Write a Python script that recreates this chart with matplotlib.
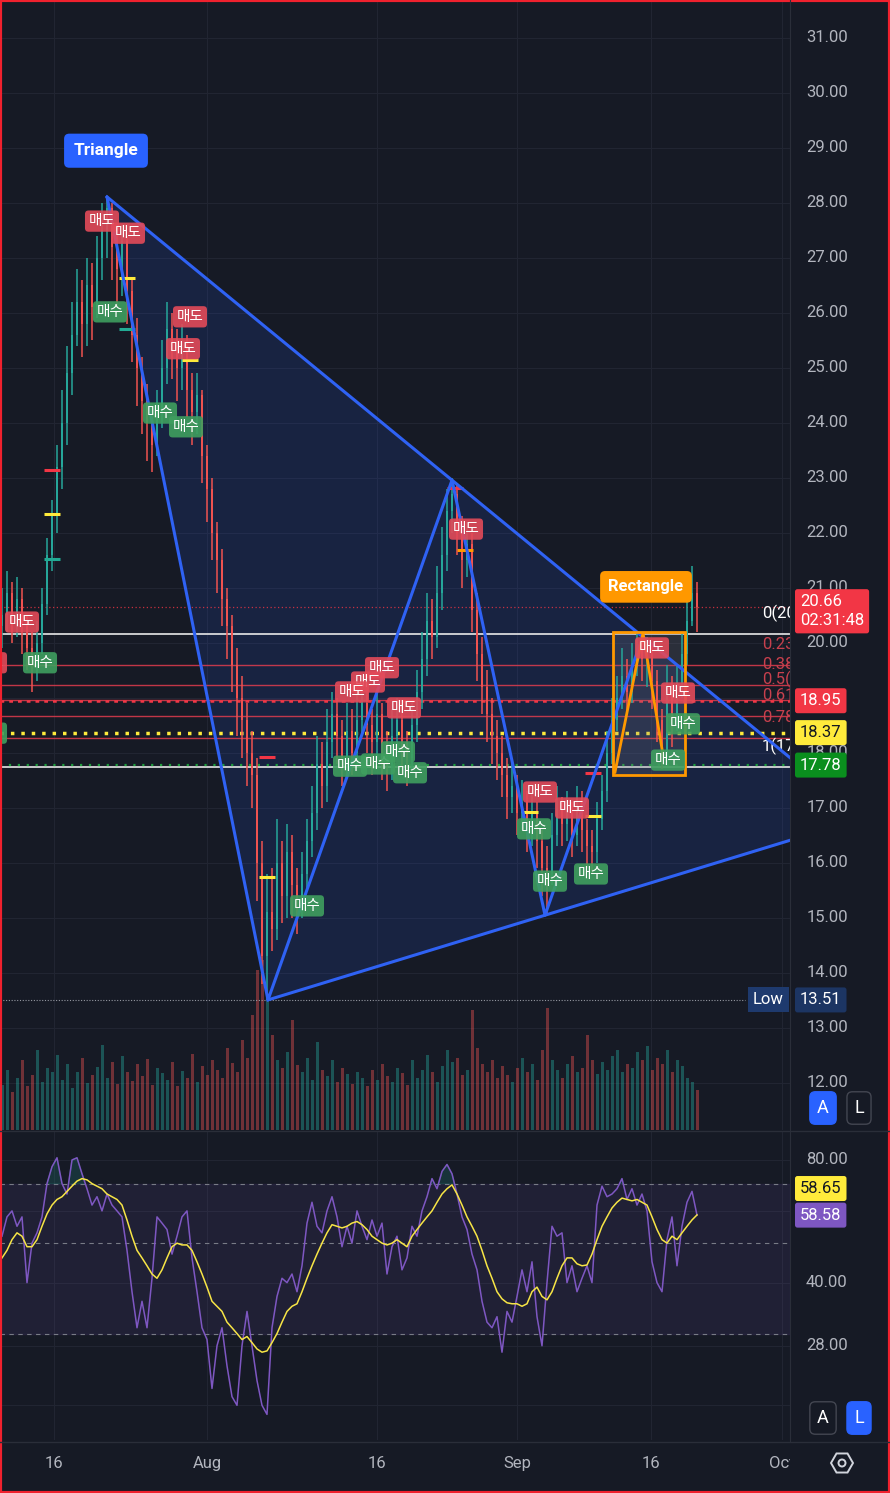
import matplotlib
matplotlib.use('Agg')
import matplotlib.pyplot as plt
import matplotlib.transforms as mtransforms
from matplotlib.patches import Rectangle, Polygon, RegularPolygon, Circle
from matplotlib.lines import Line2D
from matplotlib.ticker import NullLocator
import numpy as np

plt.rcParams['font.family'] = ['Roboto', 'Noto Sans CJK KR', 'DejaVu Sans']

W, H = 890, 1493
BG = '#161a25'
GRID = '#212532'
TXT = '#b2b5be'
UP = '#26a69a'
DN = '#ef5350'
BLUE = '#2f62f4'

# ---- price data (one bar per list entry) ----
first_open = 20.3
closes = [20.5, 20.9, 20.4, 20.8, 20.3, 19.9, 19.6, 20.0, 20.7, 21.6,
          22.3, 23.2, 24.0, 24.9, 25.6, 26.2, 25.8, 26.5, 26.1, 27.0,
          27.5, 27.9, 27.2, 26.8, 27.3, 26.4, 25.6, 25.0, 24.4, 24.0,
          23.6, 24.2, 25.0, 25.7, 25.3, 25.0, 25.4, 24.6, 24.2, 24.5,
          23.4, 22.8, 22.0, 21.5, 20.8, 20.3, 19.6, 19.0, 18.6, 18.0,
          17.6, 16.0, 14.3, 15.1, 14.8, 16.0, 15.4, 16.2, 15.6, 15.2,
          15.8, 16.4, 16.9, 17.8, 17.4, 18.2, 18.7, 18.3, 17.9, 18.4,
          18.0, 18.6, 18.9, 18.5, 18.2, 18.7, 18.0, 17.8, 18.3, 18.6,
          18.1, 17.9, 18.5, 19.1, 19.7, 20.4, 20.1, 20.9, 21.6, 22.4,
          22.7, 22.0, 21.5, 21.8, 20.6, 19.8, 19.2, 18.7, 18.3, 18.0,
          17.6, 17.2, 17.4, 16.9, 17.1, 16.6, 16.9, 16.4, 15.9, 15.8,
          16.5, 17.0, 16.7, 16.9, 16.5, 17.1, 16.6, 16.3, 16.2, 16.8,
          17.3, 18.0, 18.6, 19.0, 19.4, 19.1, 19.6, 19.9, 19.7, 19.8,
          19.3, 18.6, 18.0, 19.1, 18.6, 19.2, 19.8, 20.4, 20.9, 20.66]
highs = [21.0, 21.3, 21.1, 21.2, 21.0, 20.5, 20.2, 20.4, 21.0, 21.9,
         22.6, 23.6, 24.6, 25.4, 26.2, 26.8, 26.6, 27.0, 26.9, 27.4,
         28.0, 28.1, 28.0, 27.6, 27.6, 27.4, 26.6, 25.9, 25.2, 24.7,
         24.3, 24.6, 25.5, 26.2, 26.0, 25.7, 25.8, 25.6, 24.9, 24.9,
         24.6, 23.6, 23.0, 22.2, 21.7, 21.0, 20.5, 19.9, 19.4, 18.9,
         18.4, 17.9, 16.4, 15.8, 15.9, 16.8, 16.4, 16.7, 16.5, 15.9,
         16.2, 16.8, 17.4, 18.3, 18.2, 18.8, 19.1, 19.0, 18.6, 18.9,
         18.8, 19.2, 19.4, 19.2, 18.8, 19.1, 18.9, 18.4, 18.8, 19.0,
         18.9, 18.4, 18.9, 19.5, 20.2, 20.9, 20.8, 21.4, 22.1, 22.8,
         23.0, 22.9, 22.3, 22.2, 22.0, 20.9, 20.1, 19.5, 19.0, 18.6,
         18.3, 17.9, 17.8, 17.6, 17.5, 17.3, 17.3, 17.1, 16.6, 16.3,
         16.9, 17.4, 17.2, 17.3, 17.1, 17.4, 17.3, 16.8, 16.6, 17.1,
         17.6, 18.4, 19.0, 19.4, 19.9, 19.7, 20.0, 20.2, 20.1, 20.1,
         20.0, 19.5, 18.8, 19.6, 19.4, 19.6, 20.2, 21.0, 21.4, 21.1]
lows = [19.9, 20.2, 20.0, 20.1, 19.8, 19.5, 19.1, 19.3, 19.8, 20.5,
        21.3, 22.0, 22.8, 23.6, 24.5, 25.4, 25.2, 25.4, 25.5, 25.9,
        26.6, 27.0, 26.6, 26.1, 26.3, 25.8, 25.1, 24.3, 23.8, 23.3,
        23.1, 23.4, 23.9, 24.7, 24.8, 24.4, 24.6, 24.1, 23.6, 23.8,
        22.9, 22.2, 21.5, 20.9, 20.3, 19.7, 19.1, 18.3, 17.9, 17.4,
        17.0, 15.3, 13.8, 13.51, 14.4, 14.6, 14.9, 15.0, 15.0, 14.7,
        15.0, 15.5, 16.1, 16.6, 17.0, 17.1, 17.9, 17.8, 17.4, 17.6,
        17.6, 17.8, 18.3, 18.0, 17.6, 17.9, 17.5, 17.3, 17.5, 18.0,
        17.6, 17.4, 17.7, 18.2, 18.8, 19.4, 19.7, 19.9, 20.6, 21.3,
        22.0, 21.6, 21.0, 21.2, 20.2, 19.3, 18.7, 18.2, 17.8, 17.5,
        17.2, 16.8, 16.9, 16.5, 16.6, 16.2, 16.3, 15.9, 15.4, 15.05,
        15.6, 16.3, 16.3, 16.4, 16.1, 16.3, 16.2, 15.9, 15.8, 16.0,
        16.6, 17.1, 17.8, 18.4, 18.8, 18.7, 18.9, 19.4, 19.3, 19.2,
        18.8, 18.2, 17.7, 17.8, 18.1, 18.4, 19.0, 19.6, 20.3, 20.2]
volume = [45, 60, 38, 52, 70, 44, 55, 80, 48, 62, 58, 75, 50, 66, 42, 58, 72, 47, 55, 63,
          85, 52, 68, 46, 74, 58, 49, 66, 54, 71, 45, 62, 57, 50, 68, 44, 59, 52, 76, 48,
          64, 55, 70, 60, 52, 82, 67, 58, 90, 72, 115, 160, 170, 130, 95, 70, 62, 78, 110, 65,
          58, 72, 50, 88, 60, 54, 70, 48, 62, 56, 46, 58, 52, 44, 60, 50, 66, 54, 48, 62,
          57, 45, 70, 52, 60, 75, 58, 48, 64, 80, 68, 72, 55, 60, 120, 82, 66, 58, 70, 52,
          64, 55, 48, 62, 72, 58, 66, 50, 80, 122, 70, 60, 52, 66, 74, 58, 62, 95, 70, 56,
          68, 60, 74, 80, 58, 66, 62, 78, 70, 84, 60, 72, 66, 80, 58, 70, 64, 52, 48, 40]

# ---- RSI pane ----
rsi = [52, 58, 60, 55, 58, 40, 50, 53, 58, 70,
       77, 81, 70, 66, 80, 81, 74, 68, 62, 65,
       60, 66, 62, 60, 58, 48, 38, 31, 36, 31,
       41, 58, 56, 54, 47, 52, 58, 60, 46, 38,
       31, 29, 22, 28, 31, 25, 21, 20, 28, 34,
       28, 23, 20, 19, 31, 37, 41, 40, 42, 38,
       44, 56, 63, 55, 53, 60, 65, 58, 49, 55,
       50, 60, 55, 51, 57, 52, 56, 42, 49, 52,
       43, 46, 55, 52, 60, 65, 72, 68, 75, 78,
       74, 66, 58, 54, 47, 43, 36, 32, 31, 33,
       27, 34, 32, 37, 43, 38, 45, 33, 28, 40,
       55, 52, 53, 40, 44, 38, 41, 44, 40, 62,
       69, 65, 66, 68, 72, 64, 68, 62, 66, 60,
       45, 40, 38, 51, 58, 44, 55, 63, 67, 58.58]
rsi_ma = [46, 48, 51, 53, 52, 49, 49, 51, 55, 59,
          62, 64, 65, 67, 69, 71, 72, 71.5, 70, 69,
          68, 66, 65, 64, 62, 57, 52, 48, 46, 44,
          42, 41, 43, 46, 49, 50, 49.5, 49.5, 48, 45,
          42, 39, 36, 35, 34, 32, 31, 30, 29, 29.5,
          28.5, 27.5, 27, 27.2, 28.5, 30, 32, 34, 35, 35.5,
          38, 41, 44, 47, 50, 53, 55.5, 55, 54.5, 55,
          56, 56.5, 55.5, 54, 52, 51, 50, 49.5, 50, 51,
          50, 49, 52, 54, 56, 58, 60, 63, 66, 68,
          69.5, 66, 62, 58, 55, 52, 48, 44, 41, 38,
          36.5, 35.7, 35.5, 35.5, 35, 35.5, 38, 39, 37, 36.3,
          38, 41, 44, 46, 46, 44.5, 44, 44.2, 47, 51,
          55, 58, 61, 63, 64.5, 64, 63.5, 64, 63, 62,
          58, 54, 51, 50, 52, 51, 53, 55, 57, 58.65]

# ---- axes text ----
date_ticks = [10.4, 41, 75, 103, 129.8, 156]
date_labels = ['16', 'Aug', '16', 'Sep', '16', 'Oct']
price_ticks = list(range(12, 32))
price_hidden = [19]          # covered by the 18.95 alert tag in the reference
rsi_grid = [80, 60, 40, 28, 20]
rsi_labels = [80, 40, 28]

# ---- drawings ----
tri_x = [21, 53.2, 90, 108.6, 128.2]
tri_y = [28.11, 13.51, 22.96, 15.05, 20.13]
rect_box = (122.2, 17.6, 136.6, 20.2)
rect_x = [122.6, 128.2, 132.2]
rect_y = [17.65, 20.18, 17.96]
fib_top, fib_bottom = 20.16, 17.75
fib_levels = [0, 0.236, 0.382, 0.5, 0.618, 0.786, 1]
last_price, alert_red, alert_yellow, alert_green, low_price = 20.66, 18.95, 18.37, 17.78, 13.51

sell_x = [20, 25.2, 37.6, 36.2, 4, -2.4, 76, 73.2, 70, 80.4, 92.8, 107.6, 114, 130, 135.2]
sell_y = [27.67, 27.45, 25.93, 25.35, 20.38, 19.64, 19.55, 19.29, 19.11, 18.82, 22.07, 17.29, 17.0, 19.91, 19.09]
buy_x = [21.6, 31.6, 36.8, 7.6, -2.4, 61, 69.6, 75.2, 79.2, 81.6, 106.4, 109.6, 117.8, 136.2, 133.2]
buy_y = [26.02, 24.18, 23.93, 19.64, 18.36, 15.22, 17.76, 17.8, 18.02, 17.64, 16.62, 15.67, 15.8, 18.53, 17.87]

marks_x = [10, 10, 10, 25, 25, 37.6, 53, 53, 92.6, 90.6, 118.2, 118.2, 105.6]
marks_y = [22.35, 21.53, 23.15, 26.64, 25.71, 25.15, 15.75, 17.93, 21.69, 22.82, 16.85, 17.64, 16.93]
marks_c = ['#ffeb3b', '#22ab94', '#f23645', '#ffeb3b', '#22ab94', '#ffeb3b', '#ffeb3b',
           '#f23645', '#ff9800', '#f23645', '#ffeb3b', '#f23645', '#ffeb3b']


def rect_px(x0, y0, x1, y1):
    return [x0 / W, 1 - y1 / H, (x1 - x0) / W, (y1 - y0) / H]


def clean(a):
    a.set_xticks([])
    a.set_yticks([])
    a.yaxis.set_minor_locator(NullLocator())
    a.xaxis.set_minor_locator(NullLocator())
    for s in a.spines.values():
        s.set_visible(False)


fig = plt.figure(figsize=(W / 100, H / 100), dpi=100, facecolor=BG)
XL = (-0.4, 157.6)

ax_v = fig.add_axes(rect_px(0, 0, 790, 1130), facecolor=BG)
ax = fig.add_axes(rect_px(0, 0, 790, 1130), facecolor='none')
ax_r = fig.add_axes(rect_px(0, 1132, 790, 1440), facecolor=BG)
ax_t = fig.add_axes(rect_px(0, 1442, 790, 1490), facecolor=BG)
for a in (ax_v, ax, ax_r, ax_t):
    a.set_xlim(*XL)
    clean(a)
ax.set_ylim(11.145, 31.69)
ax_v.set_ylim(0, 1130)
ax_r.set_yscale('log')
ax_r.set_ylim(16.44, 93.7)
clean(ax_r)
ax_t.set_ylim(0, 1)

n = len(closes)
idx = np.arange(n)
c = np.array(closes)
o = np.array([first_open] + closes[:-1])
hi = np.array(highs)
lo = np.array(lows)
col = np.where(c >= o, UP, DN)

# grid (price grid in price coordinates, drawn behind the volume)
grid_tr = mtransforms.blended_transform_factory(ax_v.transAxes, ax.transData)
for p in price_ticks:
    ax_v.plot([0, 1], [p, p], transform=grid_tr, color=GRID, lw=0.8, zorder=0)
for t in date_ticks:
    ax_v.axvline(t, color=GRID, lw=0.8, zorder=0)
    ax_r.axvline(t, color=GRID, lw=0.8, zorder=0)
for g in rsi_grid:
    ax_r.axhline(g, color=GRID, lw=0.8, zorder=0)

# volume
ax_v.bar(idx, volume, width=0.6, color=col, alpha=0.42, zorder=1)

# triangle pattern
x_end = XL[1]
up_end = tri_y[0] + (tri_y[2] - tri_y[0]) / (tri_x[2] - tri_x[0]) * (x_end - tri_x[0])
lo_end = tri_y[1] + (tri_y[3] - tri_y[1]) / (tri_x[3] - tri_x[1]) * (x_end - tri_x[1])
ax.add_patch(Polygon([(tri_x[0], tri_y[0]), (x_end, up_end), (x_end, lo_end), (tri_x[1], tri_y[1])],
                     closed=True, facecolor='#2962ff', alpha=0.13, edgecolor='none', zorder=1))

# horizontal levels
ax.axhline(last_price, color='#f23645', ls=(0, (1, 2)), lw=0.9, alpha=0.8, zorder=2)
fib_prices = [fib_top - l * (fib_top - fib_bottom) for l in fib_levels]
fib_trans = mtransforms.offset_copy(mtransforms.blended_transform_factory(ax.transAxes, ax.transData),
                                    fig=fig, y=15, units='points')
for l, p in zip(fib_levels, fib_prices):
    edge = l in (0, 1)
    ax.axhline(p, color='#e8e8e8' if edge else '#e03c4e', lw=1.2 if edge else 1.0,
               alpha=1 if edge else 0.85, zorder=2)
    ax.text(762 / 790, p, f'{l:g}({p:.2f})', transform=fib_trans, ha='left', va='center',
            fontsize=12, color='#ffffff' if edge else '#c8404d', clip_on=True, zorder=2)
ax.axhline(alert_red, color='#f23645', ls=(0, (1.5, 2)), lw=1.8, zorder=2)
ax.axhline(alert_yellow, color='#ffeb3b', ls=(0, (1, 2)), lw=2.5, zorder=2)
ax.axhline(alert_green, color='#1e9e3c', ls=(0, (1, 3)), lw=1.6, zorder=2)
ax.hlines(low_price, XL[0], XL[0] + 745 / 5, color='#9598a1', ls=(0, (1, 1.5)), lw=0.8, zorder=2)

# candles
ax.vlines(idx, lo, hi, colors=col, lw=1.1, zorder=3)
ax.bar(idx, np.maximum(np.abs(c - o), 0.03), bottom=np.minimum(o, c), width=0.55, color=col, zorder=3)

for mx, my, mc in zip(marks_x, marks_y, marks_c):
    ax.hlines(my, mx - 1.6, mx + 1.6, color=mc, lw=2.2, zorder=4)

# pattern lines
ax.plot(tri_x, tri_y, color=BLUE, lw=2.2, zorder=4, solid_capstyle='round')
ax.plot([tri_x[0], x_end], [tri_y[0], up_end], color=BLUE, lw=2.2, zorder=4)
ax.plot([tri_x[1], x_end], [tri_y[1], lo_end], color=BLUE, lw=2.2, zorder=4)

rx0, ry0, rx1, ry1 = rect_box
ax.add_patch(Rectangle((rx0, ry0), rx1 - rx0, ry1 - ry0, facecolor='#787b86', alpha=0.22,
                       edgecolor='none', zorder=2))
ax.add_patch(Rectangle((rx0, ry0), rx1 - rx0, ry1 - ry0, facecolor='none',
                       edgecolor='#ff9800', lw=2, zorder=5))
ax.plot(rect_x, rect_y, color='#ff9800', lw=2, zorder=5)

# signal labels
for sx, sy in zip(sell_x, sell_y):
    ax.text(sx, sy, '매도', ha='center', va='center', fontsize=10.5, color='white',
            family=['Noto Sans CJK KR'], clip_on=True, zorder=6,
            bbox=dict(boxstyle='round,pad=0.25,rounding_size=0.25', fc='#e34a59', ec='none', alpha=0.9))
for bx, by in zip(buy_x, buy_y):
    ax.text(bx, by, '매수', ha='center', va='center', fontsize=10.5, color='white',
            family=['Noto Sans CJK KR'], clip_on=True, zorder=6,
            bbox=dict(boxstyle='round,pad=0.25,rounding_size=0.25', fc='#3f9f5f', ec='none', alpha=0.9))

ax.text(20.8, 28.95, 'Triangle', ha='center', va='center', fontsize=12.5, fontweight='bold',
        color='white', zorder=7,
        bbox=dict(boxstyle='round,pad=0.55,rounding_size=0.3', fc='#2962ff', ec='none'))
ax.text(128.8, 21.02, 'Rectangle', ha='center', va='center', fontsize=12, fontweight='bold',
        color='white', zorder=7,
        bbox=dict(boxstyle='round,pad=0.5,rounding_size=0.3', fc='#ff9800', ec='none'))

# ---- RSI ----
ax_r.fill_between(XL, 30, 70, color='#7e57c2', alpha=0.1, zorder=0)
for g in (70, 50, 30):
    ax_r.axhline(g, color='#787b86', ls=(0, (4, 4)), lw=0.8, zorder=1)
ra = np.array(rsi)
ax_r.fill_between(idx, 70, ra, where=ra > 70, interpolate=True, color='#26a69a', alpha=0.18, zorder=1)
ax_r.plot(idx, rsi, color='#7e57c2', lw=1.1, zorder=2)
ax_r.plot(idx, rsi_ma, color='#f7e546', lw=1.1, zorder=3)

# ---- right price scale ----
tr_main = mtransforms.blended_transform_factory(fig.transFigure, ax.transData)
tr_rsi = mtransforms.blended_transform_factory(fig.transFigure, ax_r.transData)
for p in price_ticks:
    if p in price_hidden:
        continue
    t = ax.text(827 / W, p, f'{p:.2f}', transform=tr_main, ha='center', va='center',
                fontsize=12, color=TXT, clip_on=False, zorder=10)
    if p == 12:
        t.set_clip_on(True)
        t.set_clip_box(mtransforms.Bbox.from_extents(790, H - 1088, W, H))
for r in rsi_labels:
    ax_r.text(827 / W, r, f'{r:.2f}', transform=tr_rsi, ha='center', va='center',
              fontsize=12, color=TXT, clip_on=False)


def tag(a, tr, y, text, fc, tc, x=800, **kw):
    a.text(x / W, y, text, transform=tr, ha='left', va='center', fontsize=12, color=tc,
           clip_on=False, zorder=20,
           bbox=dict(boxstyle='round,pad=0.3,rounding_size=0.15', fc=fc, ec='none'), **kw)


tag(ax, tr_main, alert_red, f'{alert_red:.2f}', '#f23645', 'white')
tag(ax, tr_main, alert_yellow, f'{alert_yellow:.2f}', '#ffeb3b', '#131722')
tag(ax, tr_main, alert_green, f'{alert_green:.2f}', '#0a8f1e', 'white')
tr_last = mtransforms.offset_copy(tr_main, fig=fig, y=9, units='points')
ax.text(800 / W, last_price, f'{last_price:.2f}\n02:31:48', transform=tr_last, ha='left', va='top',
        fontsize=12, color='white', linespacing=1.35, clip_on=False, zorder=20,
        bbox=dict(boxstyle='round,pad=0.3,rounding_size=0.15', fc='#f23645', ec='none'))
tag(ax, tr_main, low_price, f'{low_price:.2f}', '#1c3563', 'white')
ax.text(753 / W, low_price, 'Low', transform=tr_main, ha='left', va='center', fontsize=12,
        color='white', clip_on=False, zorder=20,
        bbox=dict(boxstyle='square,pad=0.3', fc='#1e3a6e', ec='none'))

tr_up = mtransforms.offset_copy(tr_rsi, fig=fig, y=19, units='points')
tag(ax_r, tr_up, rsi_ma[-1], f'{rsi_ma[-1]:.2f}', '#ffeb3b', '#131722')
tag(ax_r, tr_rsi, rsi[-1], f'{rsi[-1]:.2f}', '#7e57c2', 'white')

# ---- time axis ----
for t, lab in zip(date_ticks, date_labels):
    ax_t.text(t, 0.56, lab, ha='center', va='center', fontsize=12, color=TXT, clip_on=True)

# ---- chrome ----
for yy in (1131, 1442):
    fig.add_artist(Line2D([0, 1], [1 - yy / H] * 2, color='#2a2e39', lw=1))
fig.add_artist(Line2D([790 / W] * 2, [1 - 1442 / H, 1], color='#2a2e39', lw=0.8))


def button(x, y, letter, active):
    fig.text(x / W, 1 - y / H, letter, ha='center', va='center', fontsize=13, color='white',
             bbox=dict(boxstyle='round,pad=0.4,rounding_size=0.3',
                       fc='#2962ff' if active else BG, ec='#2962ff' if active else '#434651', lw=1))


button(823, 1108, 'A', True)
button(859, 1108, 'L', False)
button(823, 1418, 'A', False)
button(859, 1418, 'L', True)

ident = mtransforms.IdentityTransform()
fig.add_artist(RegularPolygon((842, H - 1463), 6, radius=11, orientation=np.pi / 6, fill=False,
                              edgecolor='#d1d4dc', lw=1.4, transform=ident))
fig.add_artist(Circle((842, H - 1463), 3.5, fill=False, edgecolor='#d1d4dc', lw=1.4, transform=ident))
fig.add_artist(Rectangle((0, 0), 1, 1, transform=fig.transFigure, fill=False, edgecolor='#f0212e', lw=3))

fig.savefig('out.png', dpi=100, facecolor=BG)
